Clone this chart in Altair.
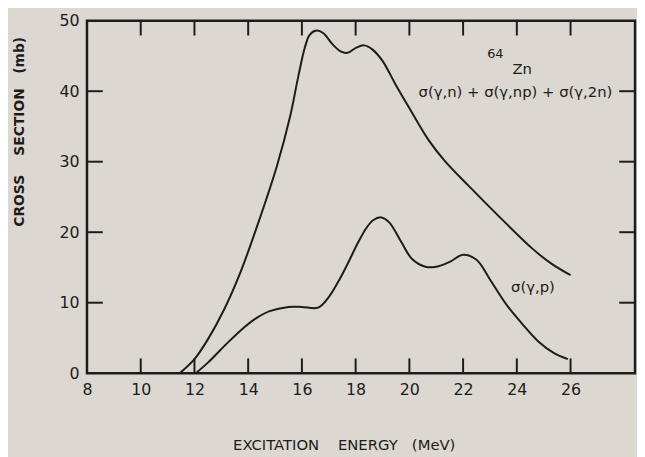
import altair as alt
import pandas as pd

# sigma(g,n)+sigma(g,np)+sigma(g,2n)
tot_e = [11.45, 12.0, 12.5, 13.1, 13.7, 14.3, 15.07, 15.56, 15.86, 16.11, 16.29, 16.54, 16.79,
         17.15, 17.46, 17.7, 18.01, 18.32, 18.63, 19.0, 19.48, 19.97, 20.71, 21.3, 22.2, 23.4, 24.6, 25.3, 26.0]
tot_s = [0.0, 2.0, 4.8, 9.0, 14.2, 20.5, 29.4, 36.4, 42.0, 46.2, 48.0, 48.6, 48.25,
         46.6, 45.6, 45.45, 46.15, 46.5, 45.9, 44.3, 41.0, 37.8, 33.1, 30.2, 26.6, 22.0, 17.6, 15.5, 13.9]
# sigma(g,p)
p_e = [12.05, 12.5, 13.15, 13.7, 14.26, 14.8, 15.5, 16.0, 16.6, 17.0, 17.4, 17.7, 18.1, 18.4, 18.65, 18.95,
       19.25, 19.7, 20.1, 20.6, 21.0, 21.5, 22.0, 22.5, 23.0, 23.6, 24.2, 24.8, 25.4, 25.9]
p_s = [0.0, 1.5, 4.0, 6.0, 7.7, 8.8, 9.4, 9.4, 9.3, 10.8, 13.3, 15.5, 18.6, 20.6, 21.7, 22.1,
       21.4, 18.6, 16.2, 15.1, 15.1, 15.8, 16.8, 16.1, 13.3, 9.8, 7.0, 4.5, 2.8, 2.0]

x_ticks = [10, 12, 14, 16, 18, 20, 22, 24, 26]
x_labels = [8, 10, 12, 14, 16, 18, 20, 22, 24, 26]
y_ticks = [10, 20, 30, 40]
y_labels = [0, 10, 20, 30, 40, 50]

W, H = 555, 357
FONT = "DejaVu Sans"
INK = "#1c1c1c"
BG = "#dcd7d0"
SP = "\u00a0"

xs = alt.Scale(domain=[8, 28.4], nice=False, zero=False)
ys = alt.Scale(domain=[0, 50], nice=False)

df = pd.concat([
    pd.DataFrame({"e": tot_e, "s": tot_s, "c": "total"}),
    pd.DataFrame({"e": p_e, "s": p_s, "c": "p"}),
])

lines = alt.Chart(df).mark_line(color=INK, strokeWidth=2, interpolate="catmull-rom").encode(
    x=alt.X("e:Q", scale=xs, axis=alt.Axis(
        values=x_labels, ticks=False, tickSize=0, domain=False, grid=False,
        labelFont=FONT, labelFontSize=16, labelColor=INK, labelPadding=9,
        title="EXCITATION" + SP * 4 + "ENERGY" + SP * 3 + "(MeV)",
        titleFont=FONT, titleFontSize=15, titleFontWeight="normal", titleColor=INK,
        titleX=260, titleY=72, titleBaseline="middle", titleAnchor="start", titleAlign="center")),
    y=alt.Y("s:Q", scale=ys, axis=alt.Axis(
        values=y_labels, ticks=False, tickSize=0, domain=False, grid=False,
        labelFont=FONT, labelFontSize=16, labelColor=INK, labelPadding=8,
        title="CROSS" + SP * 4 + "SECTION" + SP * 3 + "(mb)",
        titleFont=FONT, titleFontSize=14, titleFontWeight="bold", titleColor=INK,
        titleX=-68, titleY=112, titleAngle=-90, titleBaseline="middle", titleAlign="center")),
    detail="c:N",
)

xt = pd.DataFrame({"t": x_ticks})
yt = pd.DataFrame({"t": y_ticks})

bottom_ticks = alt.Chart(xt).mark_rule(color=INK, strokeWidth=2).encode(
    x=alt.X("t:Q", scale=xs), y=alt.value(H), y2=alt.value(H - 15))
top_ticks = alt.Chart(xt).mark_rule(color=INK, strokeWidth=2).encode(
    x=alt.X("t:Q", scale=xs), y=alt.value(0), y2=alt.value(15))
left_ticks = alt.Chart(yt).mark_rule(color=INK, strokeWidth=2).encode(
    y=alt.Y("t:Q", scale=ys), x=alt.value(0), x2=alt.value(16))
right_ticks = alt.Chart(yt).mark_rule(color=INK, strokeWidth=2).encode(
    y=alt.Y("t:Q", scale=ys), x=alt.value(W), x2=alt.value(W - 16))

def label(text, e, s, size, align="center"):
    return alt.Chart(pd.DataFrame({"a": [0]})).mark_text(
        text=text, font=FONT, fontSize=size, color=INK, align=align, baseline="middle"
    ).encode(x=alt.datum(e, scale=xs), y=alt.datum(s, scale=ys))

annots = [
    label("64", 23.2, 45.3, 13),
    label("Zn", 24.2, 43.1, 15),
    label("σ(γ,n) + σ(γ,np) + σ(γ,2n)", 23.95, 39.9, 15),
    label("σ(γ,p)", 24.6, 12.2, 15),
]

chart = alt.layer(lines, bottom_ticks, top_ticks, left_ticks, right_ticks, *annots).properties(
    width=W, height=H,
    autosize=alt.AutoSizeParams(type="none"),
    padding={"left": 80, "top": 10, "right": 2, "bottom": 82},
    background=BG,
).configure_view(stroke=INK, strokeWidth=2.5).configure_axis(labelFlush=False)

chart.save("out.html", embed_options={"renderer": "svg", "actions": False})
